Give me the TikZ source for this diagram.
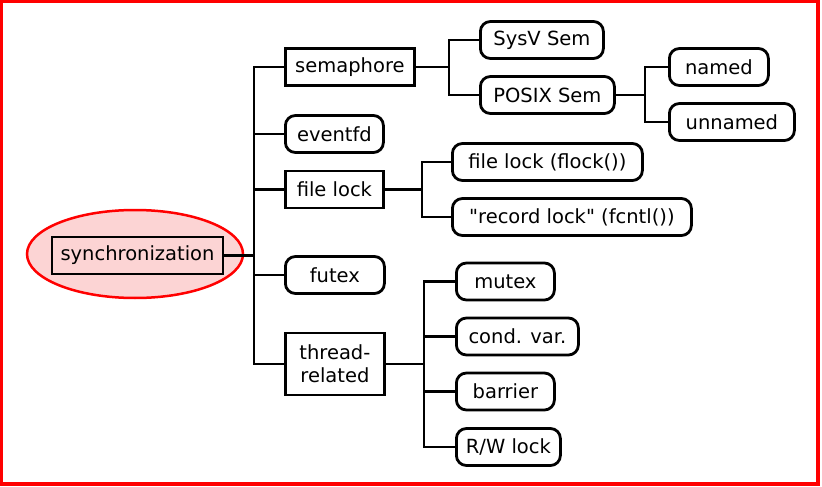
\documentclass[tikz,border=0pt]{standalone}
\usepackage{fontspec}
\setmainfont{DejaVu Sans}[Ligatures=TeXOff]
\usetikzlibrary{shapes.geometric}
\definecolor{blush}{RGB}{252,212,212}
\begin{document}
\begin{tikzpicture}[x=1pt,y=-1pt,
    catbox/.style={draw,line width=2.8pt,minimum height=37,inner sep=0pt,anchor=west,
      align=center,font=\fontsize{19.5}{23}\selectfont},
    leafbox/.style={catbox,rounded corners=10pt},
    link/.style={line width=2.8pt}]

\useasboundingbox (0,0) rectangle (822,487);
\draw[red,line width=3.5pt] (1.5,1.5) rectangle (818,484);

% Root
\node[ellipse,draw=red,line width=2.5pt,fill=blush,minimum width=216,minimum height=88] (halo) at (135,254) {};
\node[catbox,anchor=center,fill=blush,minimum width=171] (sync) at (137.5,255.5) {synchronization};

% Level 1
\node[catbox,minimum width=129] (sem) at (284,67) {semaphore};
\node[leafbox,minimum width=98] (efd) at (284,134) {eventfd};
\node[catbox,minimum width=98] (flk) at (284,189.5) {file lock};
\node[leafbox,minimum width=99] (futex) at (284,275) {futex};
\node[catbox,minimum width=99,minimum height=62] (thr) at (284,364) {thread-\\related};

% Level 2
\node[leafbox,minimum width=123] (sysv) at (479,40) {SysV Sem};
\node[leafbox,minimum width=134] (posix) at (479,95) {POSIX Sem};
\node[leafbox,minimum width=190] (flock) at (451,162) {file lock (flock())};
\node[leafbox,minimum width=239] (fcntl) at (451,217) {"record lock" (fcntl())};
\node[leafbox,minimum width=98] (mutex) at (455,281.5) {mutex};
\node[leafbox,minimum width=122] (cond) at (455,336.5) {cond. var.};
\node[leafbox,minimum width=98] (barr) at (455,391.5) {barrier};
\node[leafbox,minimum width=104] (rw) at (455,447) {R/W lock};

% Level 3
\node[leafbox,minimum width=99] (named) at (668,67) {named};
\node[leafbox,minimum width=125] (unnamed) at (668,122) {unnamed};

% Junctions
\coordinate (j0) at (254,255.5);
\coordinate (j1) at (449,67);
\coordinate (j2) at (645,95);
\coordinate (j3) at (422,189.5);
\coordinate (j4) at (424,364);

% Edges
\draw[link] (sync.east) -- (j0);
\foreach \n in {sem,efd,flk,futex,thr}
  \draw[link] (j0) |- (\n.west);
\draw[link] (sem.east) -- (j1);
\foreach \n in {sysv,posix}
  \draw[link] (j1) |- (\n.west);
\draw[link] (posix.east) -- (j2);
\foreach \n in {named,unnamed}
  \draw[link] (j2) |- (\n.west);
\draw[link] (flk.east) -- (j3);
\foreach \n in {flock,fcntl}
  \draw[link] (j3) |- (\n.west);
\draw[link] (thr.east) -- (j4);
\foreach \n in {mutex,cond,barr,rw}
  \draw[link] (j4) |- (\n.west);
\end{tikzpicture}
\end{document}
